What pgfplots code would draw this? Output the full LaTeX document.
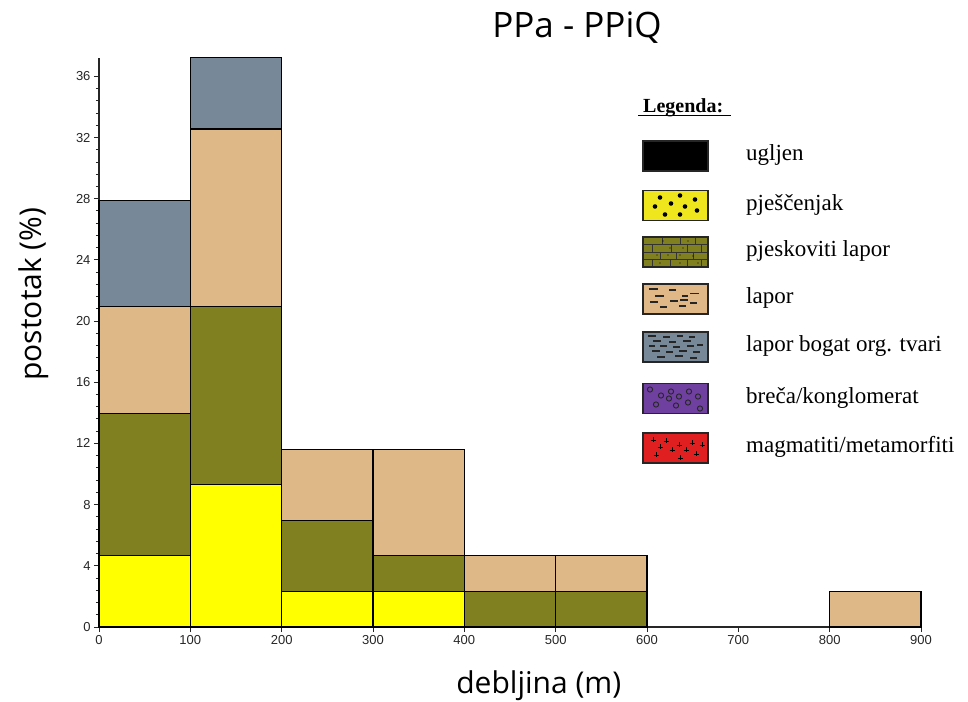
\documentclass[border=0pt]{standalone}
\usepackage{fontspec}
\setmainfont{Liberation Sans}
\newfontfamily\osans{Open Sans}
\newfontfamily\tnr{Liberation Serif}
\usepackage{pgfplots}
\pgfplotsset{compat=1.18}

\definecolor{pjes}{RGB}{255,255,0}
\definecolor{olv}{RGB}{128,128,32}
\definecolor{burly}{RGB}{222,184,135}
\definecolor{slate}{RGB}{119,136,153}
\definecolor{lgyel}{RGB}{240,230,30}
\definecolor{lgtan}{RGB}{224,184,136}
\definecolor{lgpur}{RGB}{112,64,160}
\definecolor{lgred}{RGB}{224,32,32}

\begin{document}
\begin{tikzpicture}
\path[use as bounding box] (0,0) rectangle (968bp,702bp);
\begin{axis}[
  at={(99bp,75bp)}, anchor=south west,
  scale only axis, width=822bp, height=569bp,
  xmin=0, xmax=900, ymin=0, ymax=37.2,
  axis x line=bottom, axis y line=left,
  axis line style={-, line width=1.2bp, color=black!85},
  xtick={0,100,...,900}, ytick={0,4,...,36},
  minor y tick num=4,
  tick align=outside,
  major tick length=5bp, minor tick length=3bp,
  tick style={line width=1bp, black!85},
  ybar stacked, bar width=100, bar shift=0pt,
  every axis plot/.append style={draw=black, line width=1.1bp},
  ticklabel style={font=\fontsize{13bp}{15bp}\selectfont, text=black!85},
  /pgf/number format/assume math mode=true,
  xlabel={debljina (m)}, ylabel={postotak (\%)},
  xlabel style={at={(axis description cs:0.535,-0.116)}, anchor=base,
    font=\osans\fontsize{30bp}{36bp}\selectfont},
  ylabel style={at={(axis description cs:-0.07,0.585)}, anchor=base,
    font=\osans\fontsize{30bp}{36bp}\selectfont},
  title={PPa - PPiQ},
  title style={at={(axis description cs:0.5815,1.026)}, anchor=base,
    font=\osans\fontsize{35bp}{41bp}\selectfont},
  clip=false,
]
% pjescenjak
\addplot[fill=pjes] coordinates {(50,4.6512) (150,9.3023) (250,2.3256) (350,2.3256) (450,0) (550,0) (850,0)};
% pjeskoviti lapor
\addplot[fill=olv] coordinates {(50,9.3023) (150,11.6279) (250,4.6512) (350,2.3256) (450,2.3256) (550,2.3256) (850,0)};
% lapor
\addplot[fill=burly] coordinates {(50,6.9767) (150,11.6279) (250,4.6512) (350,6.9767) (450,2.3256) (550,2.3256) (850,2.3256)};
% lapor bogat org. tvari
\addplot[fill=slate] coordinates {(50,6.9767) (150,4.6512) (250,0) (350,0) (450,0) (550,0) (850,0)};
\end{axis}

% legend
\node[anchor=base west, inner sep=0pt, font=\tnr\bfseries\fontsize{20bp}{24bp}\selectfont] at (643bp,589bp) {Legenda:};
\draw[line width=1bp] (638bp,586.5bp) -- (731bp,586.5bp);

\tikzset{lgtext/.style={anchor=base west, inner sep=0pt, font=\tnr\fontsize{23bp}{28bp}\selectfont}}
\node[lgtext] at (746bp,541.5bp) {ugljen};
\node[lgtext] at (746bp,491.5bp) {pješčenjak};
\node[lgtext] at (746bp,445bp) {pjeskoviti lapor};
\node[lgtext] at (746bp,398bp) {lapor};
\node[lgtext] at (746bp,350bp) {lapor bogat org. tvari};
\node[lgtext] at (746bp,298.5bp) {breča/konglomerat};
\node[lgtext] at (746bp,249bp) {magmatiti/metamorfiti};

% ugljen
\begin{scope}[shift={(643bp,561bp)}, x=1bp, y=-1bp]
  \fill[black] (0,0) rectangle (65,30);
  \draw[line width=1.5bp, black!85] (0,0) rectangle (65,30);
\end{scope}
% pjescenjak
\begin{scope}[shift={(643bp,511.5bp)}, x=1bp, y=-1bp]
  \fill[lgyel] (0,0) rectangle (65,30);
  \foreach \a/\b in {17/7,37/5,52/9,12/16,28/13,42/16,54/20,22/24,37/24}
    \fill[black] (\a,\b) circle (2.3bp);
  \draw[line width=1.5bp, black!85] (0,0) rectangle (65,30);
\end{scope}
% pjeskoviti lapor
\begin{scope}[shift={(643bp,465bp)}, x=1bp, y=-1bp]
  \fill[olv] (0,0) rectangle (65,30);
  \foreach \b in {7.5,15,22.5} \draw[line width=0.7bp, black!80] (0,\b) -- (65,\b);
  \foreach \a in {19,37,52} \draw[line width=0.7bp, black!80] (\a,0) -- (\a,7.5);
  \foreach \a in {9,28,44,58} \draw[line width=0.7bp, black!80] (\a,7.5) -- (\a,15);
  \foreach \a in {17,33,50} \draw[line width=0.7bp, black!80] (\a,15) -- (\a,22.5);
  \foreach \a in {9,27,44,58} \draw[line width=0.7bp, black!80] (\a,22.5) -- (\a,30);
  \foreach \a/\b in {20/4,45/4,27/11,40/11,14/18,25/18,37/18,50/19,17/26,37/26,55/26}
    \fill[black] (\a,\b) circle (0.7bp);
  \draw[line width=1.5bp, black!85] (0,0) rectangle (65,30);
\end{scope}
% lapor
\begin{scope}[shift={(643bp,418bp)}, x=1bp, y=-1bp]
  \fill[lgtan] (0,0) rectangle (65,30);
  \foreach \a/\c/\b in {6/15/5,26/33/6,12/21/12,47/56/9.5,39/45/12,7/15/18,27/35/17,37/45/16,47/54/19,17/24/23,36/43/22}
    \draw[line width=1.1bp, black!85] (\a,\b) -- (\c,\b);
  \draw[line width=1.5bp, black!85] (0,0) rectangle (65,30);
\end{scope}
% lapor bogat org. tvari
\begin{scope}[shift={(643bp,370bp)}, x=1bp, y=-1bp]
  \fill[slate] (0,0) rectangle (65,30);
  \foreach \a/\c/\b in {5/13/4,20/27/5,34/40/4,46/52/5,10/18/9,26/33/10,40/48/9,6/12/14,17/24/14,30/37/15,44/51/14,54/60/13,9/17/19,23/30/20,36/44/19,50/57/20,14/22/25,32/40/24,47/54/26}
    \draw[line width=1.1bp, black!85] (\a,\b) -- (\c,\b);
  \draw[line width=1.5bp, black!85] (0,0) rectangle (65,30);
\end{scope}
% breca/konglomerat
\begin{scope}[shift={(643bp,318.5bp)}, x=1bp, y=-1bp]
  \fill[lgpur] (0,0) rectangle (65,30);
  \foreach \a/\b in {7/6,18/12,28/8,36/13,46/8,55/13,13/21,26/15,33/22,45/19,57/25}
    \draw[line width=0.9bp, black!85] (\a,\b) circle (2.6bp);
  \draw[line width=1.5bp, black!85] (0,0) rectangle (65,30);
\end{scope}
% magmatiti/metamorfiti
\begin{scope}[shift={(643bp,269bp)}, x=1bp, y=-1bp]
  \fill[lgred] (0,0) rectangle (65,30);
  \foreach \a/\b in {10/7,23/8,17/14,29/17,36/12,43/17,49/10,59/12,13/22,37/25,53/21}
    \draw[line width=0.9bp, black] (\a-2.5,\b) -- (\a+2.5,\b) (\a,\b-2.5) -- (\a,\b+2.5);
  \draw[line width=1.5bp, black!85] (0,0) rectangle (65,30);
\end{scope}
\end{tikzpicture}
\end{document}
